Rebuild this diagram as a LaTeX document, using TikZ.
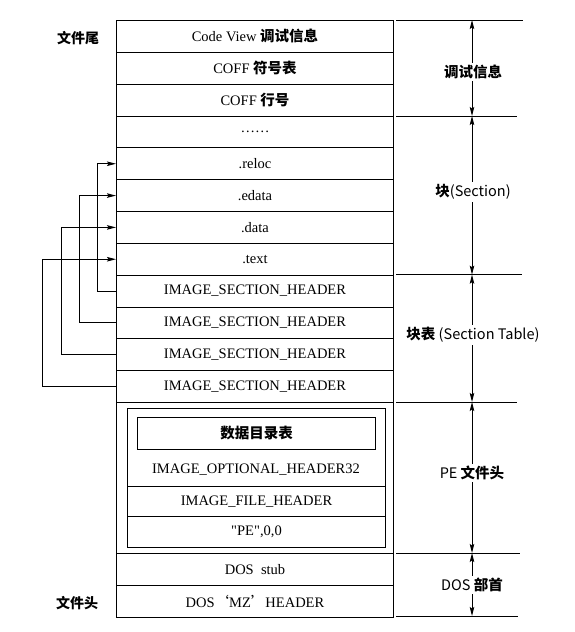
\documentclass[tikz,border=0pt]{standalone}
\usepackage{fontspec}
\setmainfont{Liberation Serif}
\newfontfamily\rawserif{Liberation Serif}[Ligatures=TeXOff]
\newfontfamily\cjk{Noto Sans CJK SC}
\usetikzlibrary{arrows.meta}
\newcommand\zhb[1]{{\cjk\bfseries #1}}
\begin{document}
\begin{tikzpicture}[x=1pt,y=-1pt,
  tip/.tip={Stealth[length=9pt,width=4.5pt,inset=1.5pt]},
  row/.style={draw, line width=1pt, minimum width=277pt, minimum height=31.83pt, inner sep=0pt,
    anchor=north west, font=\fontsize{14.5}{16}\selectfont},
  inrow/.style={draw, line width=1pt, minimum width=258pt, inner sep=0pt,
    anchor=north west, font=\fontsize{14.5}{16}\selectfont},
  plain/.style={inner sep=0pt, font=\fontsize{14.5}{16}\selectfont},
  side/.style={inner sep=2pt, fill=white, font=\cjk\fontsize{14.5}{16}\selectfont},
  dim/.style={line width=1pt, {tip}-{tip}},
  link/.style={line width=1pt, -{tip}},
  rule/.style={line width=1pt}]
\useasboundingbox (0,0) rectangle (575,632);

% main column
\node[row] (r1)  at (116,20)     {Code View \zhb{调试信息}};
\node[row] (r2)  at (116,51.83)  {COFF \zhb{符号表}};
\node[row] (r3)  at (116,83.67)  {COFF \zhb{行号}};
\node[row] (r4)  at (116,115.5)  {……};
\node[row] (r5)  at (116,147.33) {.reloc};
\node[row] (r6)  at (116,179.17) {.edata};
\node[row] (r7)  at (116,211)    {.data};
\node[row] (r8)  at (116,242.83) {.text};
\node[row] (r9)  at (116,274.67) {IMAGE\_SECTION\_HEADER};
\node[row] (r10) at (116,306.5)  {IMAGE\_SECTION\_HEADER};
\node[row] (r11) at (116,338.33) {IMAGE\_SECTION\_HEADER};
\node[row] (r12) at (116,370.17) {IMAGE\_SECTION\_HEADER};
\node[row, minimum height=151pt] (pe) at (116,402) {};
\node[row, minimum height=32pt] (stub) at (116,553) {DOS\ \ stub};
\node[row, minimum height=32pt] (mz)   at (116,585) {DOS{\cjk‘}MZ{\cjk’}HEADER};

% PE header inner parts
\node[inrow, minimum height=139pt] (pein) at (127,408) {};
\node[draw, line width=1pt, minimum width=238pt, minimum height=32pt, inner sep=0pt, anchor=north west,
  font=\fontsize{14.5}{16}\selectfont] (dir) at (137,417) {\zhb{数据目录表}};
\node[plain] (opt) at (256,470) {IMAGE\_OPTIONAL\_HEADER32};
\node[inrow, minimum height=30pt] (fh) at (127,486) {IMAGE\_FILE\_HEADER};
\node[inrow, minimum height=31pt] (sig) at (127,516) {{\rawserif "PE",0,0}};

% left labels
\node[plain, font=\cjk\bfseries\fontsize{14}{16}\selectfont] (tail) at (78,38)  {文件尾};
\node[plain, font=\cjk\bfseries\fontsize{14}{16}\selectfont] (head) at (77,603) {文件头};

% section header links
\draw[link] (r9.west)  -- ++(-19,0) |- (r5.west);
\draw[link] (r10.west) -- ++(-37,0) |- (r6.west);
\draw[link] (r11.west) -- ++(-55,0) |- (r7.west);
\draw[link] (r12.west) -- ++(-74,0) |- (r8.west);

% right dimension rules
\coordinate (d0) at (472,20);
\coordinate (d1) at (472,116);
\coordinate (d2) at (472,274.67);
\coordinate (d3) at (472,402);
\coordinate (d4) at (472,553);
\coordinate (d5) at (472,616);
\foreach \d/\e in {d0/51, d1/45, d2/50, d3/45, d4/48, d5/46}
  \draw[rule] ([xshift=-76pt]\d) -- ([xshift=\e pt]\d);
\draw[dim] (d0) -- (d1);
\draw[dim] (d1) -- (d2);
\draw[dim] (d2) -- (d3);
\draw[dim] (d3) -- (d4);
\draw[dim] (d4) -- (d5);
\node[side] (l1) at (473,72)  {\bfseries 调试信息};
\node[side] (l2) at (473,192) {\bfseries 块\mdseries(Section)};
\node[side] (l3) at (473,335) {\bfseries 块表\mdseries\ (Section Table)};
\node[side] (l4) at (472,473) {PE \bfseries 文件头};
\node[side] (l5) at (472,585) {DOS \bfseries 部首};
\end{tikzpicture}
\end{document}
